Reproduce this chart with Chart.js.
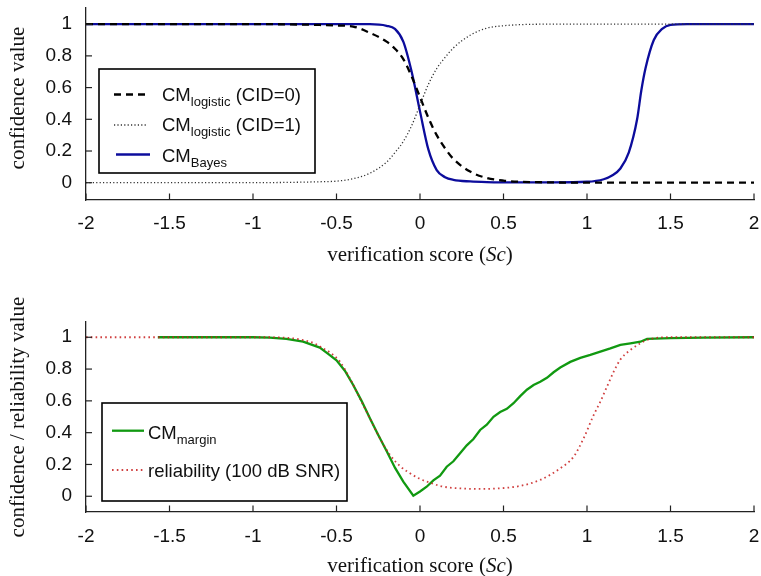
<!DOCTYPE html>
<html><head><meta charset="utf-8">
<script src="https://cdn.jsdelivr.net/npm/chart.js@4.4.1/dist/chart.umd.min.js"></script>
<style>
html,body{margin:0;padding:0;background:#fff;}
#wrap{width:761px;height:576px;position:relative;overflow:hidden;}
canvas{display:block;}
</style>
</head><body>
<div id="wrap"><canvas id="c1" width="761" height="288"></canvas><canvas id="c2" width="761" height="288"></canvas></div>
<script>
// ---------- data ----------
const xTicks = [-2, -1.5, -1, -0.5, 0, 0.5, 1, 1.5, 2];
const yTicks = [0, 0.2, 0.4, 0.6, 0.8, 1];

// top panel
const logisticX = [-2, -1, -0.8, -0.6, -0.5, -0.4, -0.3, -0.2, -0.15, -0.1, -0.05, 0, 0.05, 0.1, 0.15, 0.2, 0.3, 0.4, 0.5, 0.6, 0.8, 1, 2];
const logisticCID0 = [1, 1, 0.999, 0.995, 0.992, 0.985, 0.945, 0.89, 0.845, 0.78, 0.67, 0.54, 0.41, 0.30, 0.217, 0.15, 0.07, 0.03, 0.013, 0.006, 0.002, 0, 0];
const logisticCID1 = [0, 0, 0.002, 0.006, 0.01, 0.025, 0.06, 0.13, 0.19, 0.26, 0.36, 0.49, 0.62, 0.72, 0.79, 0.85, 0.93, 0.975, 0.99, 0.997, 1, 1, 1];
const bayesX = [-2, -0.3, -0.2, -0.15, -0.1, -0.05, 0, 0.05, 0.1, 0.15, 0.2, 0.3, 0.4, 0.6, 0.8, 1.0, 1.1, 1.15, 1.2, 1.25, 1.3, 1.325, 1.35, 1.4, 1.45, 1.5, 1.6, 2];
const bayesY = [1, 1, 0.99, 0.97, 0.89, 0.70, 0.45, 0.21, 0.08, 0.035, 0.018, 0.008, 0.004, 0.002, 0.002, 0.006, 0.022, 0.045, 0.09, 0.19, 0.40, 0.58, 0.72, 0.90, 0.97, 0.995, 1, 1];

// bottom panel
const marginX = [-1.57, -1.0, -0.9, -0.8, -0.7, -0.6, -0.55, -0.5, -0.45, -0.4, -0.35, -0.3, -0.25, -0.2, -0.15, -0.1, -0.04,
  0.0, 0.04, 0.08, 0.12, 0.16, 0.2, 0.24, 0.28, 0.32, 0.36, 0.4, 0.44, 0.48, 0.52, 0.56, 0.6, 0.64, 0.68, 0.72, 0.76, 0.8, 0.84, 0.9, 0.96, 1.02, 1.08, 1.14, 1.2, 1.26, 1.32, 1.36, 1.5, 1.7, 2];
const marginY = [1, 1, 0.998, 0.99, 0.972, 0.935, 0.895, 0.855, 0.79, 0.70, 0.60, 0.49, 0.385, 0.285, 0.18, 0.092, 0.004,
  0.03, 0.06, 0.10, 0.13, 0.186, 0.22, 0.27, 0.32, 0.36, 0.417, 0.45, 0.50, 0.53, 0.55, 0.585, 0.63, 0.67, 0.70, 0.72, 0.745, 0.78, 0.81, 0.845, 0.87, 0.889, 0.91, 0.93, 0.952, 0.962, 0.972, 0.99, 0.995, 0.998, 1];
const reliabilityX = [-2, -0.9, -0.8, -0.74, -0.64, -0.58, -0.54, -0.48, -0.42, -0.36, -0.3, -0.24, -0.18, -0.12, -0.06, 0, 0.06, 0.12, 0.18, 0.27, 0.36, 0.48, 0.6, 0.72, 0.84, 0.92, 0.98, 1.04, 1.08, 1.12, 1.16, 1.2, 1.26, 1.32, 1.38, 1.5, 2];
const reliabilityY = [1, 1, 0.997, 0.99, 0.965, 0.93, 0.905, 0.847, 0.742, 0.616, 0.49, 0.365, 0.26, 0.19, 0.145, 0.109, 0.085, 0.065, 0.054, 0.048, 0.046, 0.05, 0.065, 0.103, 0.176, 0.249, 0.365, 0.511, 0.595, 0.69, 0.784, 0.86, 0.92, 0.962, 0.99, 1, 1];

// ---------- styling ----------
const SANS = '"Liberation Sans", Arial, Helvetica, sans-serif';
const SERIF = '"Liberation Serif", "Times New Roman", serif';
const AXIS = '#222';
const BLUE = '#0c0c9c';
const GREEN = '#119911';
const RED = 'rgba(200,30,30,0.85)';

function pts(xs, ys) { return xs.map((x, i) => ({ x: x, y: ys[i] })); }

function drawRich(ctx, x, baseline, parts, size, subSize) {
  let cx = x;
  parts.forEach(p => {
    if (p.sub) {
      ctx.font = subSize + 'px ' + SANS;
      ctx.fillText(p.t, cx, baseline + 5);
    } else {
      ctx.font = size + 'px ' + SANS;
      ctx.fillText(p.t, cx, baseline);
    }
    cx += ctx.measureText(p.t).width;
  });
}

function decorPlugin(cfg) {
  return {
    id: 'decor',
    afterDraw(chart) {
      const { ctx, chartArea: a, scales } = chart;
      const sx = scales.x, sy = scales.y;
      ctx.save();
      // inward tick marks
      ctx.strokeStyle = AXIS; ctx.lineWidth = 1.2;
      xTicks.forEach(v => {
        const px = sx.getPixelForValue(v);
        ctx.beginPath(); ctx.moveTo(px, a.bottom); ctx.lineTo(px, a.bottom - 6.5); ctx.stroke();
      });
      yTicks.forEach(v => {
        const py = sy.getPixelForValue(v);
        ctx.beginPath(); ctx.moveTo(a.left, py); ctx.lineTo(a.left + 6, py); ctx.stroke();
      });
      // x title with italic Sc
      ctx.fillStyle = '#111';
      ctx.textBaseline = 'alphabetic';
      ctx.textAlign = 'left';
      const f1 = '21px ' + SERIF, f2 = 'italic 21px ' + SERIF;
      ctx.font = f1; const w1 = ctx.measureText('verification score (').width; const w3 = ctx.measureText(')').width;
      ctx.font = f2; const w2 = ctx.measureText('Sc').width;
      let tx = (a.left + a.right) / 2 - (w1 + w2 + w3) / 2;
      ctx.font = f1; ctx.fillText('verification score (', tx, cfg.xTitleBase);
      ctx.font = f2; ctx.fillText('Sc', tx + w1, cfg.xTitleBase);
      ctx.font = f1; ctx.fillText(')', tx + w1 + w2, cfg.xTitleBase);
      // y title
      ctx.save();
      ctx.translate(cfg.yTitleX, cfg.yTitleY);
      ctx.rotate(-Math.PI / 2);
      ctx.textAlign = 'center'; ctx.textBaseline = 'middle';
      ctx.font = f1;
      ctx.fillText(cfg.yTitle, 0, 0);
      ctx.restore();
      // legend box
      const b = cfg.box;
      ctx.fillStyle = '#fff';
      ctx.fillRect(b.x, b.y, b.w, b.h);
      ctx.strokeStyle = '#000'; ctx.lineWidth = 1.6;
      ctx.strokeRect(b.x, b.y, b.w, b.h);
      cfg.entries.forEach(e => {
        ctx.save();
        ctx.strokeStyle = e.color; ctx.lineWidth = e.width;
        ctx.setLineDash(e.dash || []);
        ctx.beginPath(); ctx.moveTo(e.x0, e.ly); ctx.lineTo(e.x1, e.ly); ctx.stroke();
        ctx.restore();
        ctx.fillStyle = '#111';
        ctx.textAlign = 'left'; ctx.textBaseline = 'alphabetic';
        drawRich(ctx, e.tx, e.base, e.parts, 18.5, 13);
      });
      ctx.restore();
    }
  };
}

function makeOptions(yMin, yMax, topPad, xHeight, xPad) {
  return {
    responsive: false,
    animation: false,
    devicePixelRatio: 1,
    layout: { padding: { top: topPad, right: 7, left: 0, bottom: 0 } },
    plugins: { legend: { display: false }, tooltip: { enabled: false } },
    elements: { point: { radius: 0 } },
    scales: {
      x: {
        type: 'linear', min: -2, max: 2,
        afterBuildTicks: s => { s.ticks = xTicks.map(v => ({ value: v })); },
        afterFit: s => { s.height = xHeight; s.paddingLeft = 0; s.paddingRight = 0; },
        grid: { display: true, drawOnChartArea: false, drawTicks: false },
        border: { display: true, color: AXIS, width: 1.3 },
        ticks: { color: '#111', font: { family: SANS, size: 19 }, padding: xPad, maxRotation: 0, autoSkip: false, callback: v => String(v) }
      },
      y: {
        type: 'linear', min: yMin, max: yMax,
        afterBuildTicks: s => { s.ticks = yTicks.map(v => ({ value: v })); },
        afterFit: s => { s.width = 86; s.paddingTop = 0; s.paddingBottom = 0; },
        grid: { display: true, drawOnChartArea: false, drawTicks: false },
        border: { display: true, color: AXIS, width: 1.3 },
        ticks: { color: '#111', font: { family: SANS, size: 19 }, padding: 14, autoSkip: false, callback: v => String(v) }
      }
    }
  };
}

// top chart
new Chart(document.getElementById('c1'), {
  type: 'line',
  data: {
    datasets: [
      { label: 'CM logistic (CID=1)', data: pts(logisticX, logisticCID1), borderColor: '#333', borderWidth: 1.3, borderDash: [1.2, 2.2], cubicInterpolationMode: 'monotone', fill: false },
      { label: 'CM logistic (CID=0)', data: pts(logisticX, logisticCID0), borderColor: '#000', borderWidth: 2.3, borderDash: [7, 5], cubicInterpolationMode: 'monotone', fill: false },
      { label: 'CM Bayes', data: pts(bayesX, bayesY), borderColor: BLUE, borderWidth: 2.3, cubicInterpolationMode: 'monotone', fill: false }
    ]
  },
  options: makeOptions(-0.109, 1.102, 8, 88, 12),
  plugins: [decorPlugin({
    xTitleBase: 261, yTitle: 'confidence value', yTitleX: 18, yTitleY: 98,
    box: { x: 99, y: 69, w: 216, h: 104 },
    entries: [
      { color: '#000', width: 2.3, dash: [7, 5], x0: 114, x1: 148, ly: 94.5, tx: 162, base: 100.5,
        parts: [{ t: 'CM' }, { t: 'logistic', sub: true }, { t: ' (CID=0)' }] },
      { color: '#333', width: 1.3, dash: [1.2, 2.2], x0: 114, x1: 148, ly: 125, tx: 162, base: 130.5,
        parts: [{ t: 'CM' }, { t: 'logistic', sub: true }, { t: ' (CID=1)' }] },
      { color: BLUE, width: 2.3, x0: 116, x1: 150, ly: 154.5, tx: 162, base: 162,
        parts: [{ t: 'CM' }, { t: 'Bayes', sub: true }] }
    ]
  })]
});

// bottom chart
new Chart(document.getElementById('c2'), {
  type: 'line',
  data: {
    datasets: [
      { label: 'reliability (100 dB SNR)', data: pts(reliabilityX, reliabilityY), borderColor: RED, borderWidth: 1.8, borderDash: [1.6, 3.2], cubicInterpolationMode: 'monotone', fill: false },
      { label: 'CM margin', data: pts(marginX, marginY), borderColor: GREEN, borderWidth: 2.3, tension: 0, fill: false }
    ]
  },
  options: makeOptions(-0.099, 1.096, 34, 64, 13),
  plugins: [decorPlugin({
    xTitleBase: 283.5, yTitle: 'confidence / reliability value', yTitleX: 18, yTitleY: 129,
    box: { x: 102, y: 115, w: 245, h: 98 },
    entries: [
      { color: GREEN, width: 2.3, x0: 112, x1: 144, ly: 142.7, tx: 148, base: 150.5,
        parts: [{ t: 'CM' }, { t: 'margin', sub: true }] },
      { color: RED, width: 1.8, dash: [1.6, 3.2], x0: 112, x1: 144, ly: 182, tx: 148, base: 188.5,
        parts: [{ t: 'reliability (100 dB SNR)' }] }
    ]
  })]
});
</script>
</body></html>
